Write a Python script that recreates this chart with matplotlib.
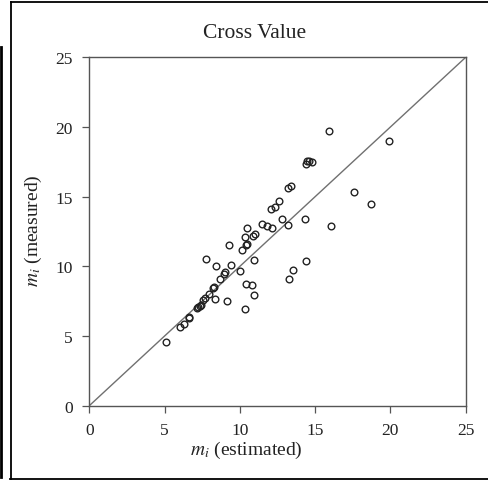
import matplotlib
matplotlib.use("Agg")
import matplotlib.pyplot as plt
from matplotlib.lines import Line2D

m_est = [5.10, 6.03, 6.27, 6.60, 6.62, 7.18, 7.25, 7.32, 7.42, 7.52,
         7.68, 7.92, 8.24, 8.27, 8.35, 7.75, 8.42, 8.66, 8.93, 9.00,
         9.16, 9.25, 9.42, 9.99, 10.15, 10.32, 10.33, 10.40, 10.40, 10.47,
         10.49, 10.83, 10.91, 10.90, 10.98, 10.97, 11.48, 11.80, 12.07, 12.15,
         12.33, 12.62, 12.80, 13.23, 13.21, 13.40, 13.29, 13.55, 14.30, 14.37,
         14.49, 14.62, 14.80, 14.38, 15.95, 16.04, 17.61, 18.68, 19.93]
m_meas = [4.55, 5.65, 5.88, 6.30, 6.33, 7.02, 7.08, 7.14, 7.25, 7.55,
          7.75, 8.00, 8.47, 8.50, 7.66, 10.53, 9.99, 9.09, 9.48, 9.56,
          7.48, 11.50, 10.08, 9.63, 11.14, 6.94, 12.14, 8.73, 11.52, 11.60,
          12.74, 8.64, 10.43, 12.16, 12.32, 7.95, 13.04, 12.93, 14.09, 12.76,
          14.26, 14.72, 13.39, 12.94, 15.61, 15.79, 9.10, 9.72, 13.38, 17.31,
          17.53, 17.57, 17.49, 10.35, 19.72, 12.93, 15.35, 14.46, 19.00]
ticks = [0, 5, 10, 15, 20, 25]

plt.rcParams.update({
    "font.family": "Liberation Serif",
    "mathtext.fontset": "stix",
})

W, H = 489, 481
fig = plt.figure(figsize=(W / 100, H / 100), dpi=100)
ax = fig.add_axes([89.3 / W, 1 - 406.7 / H, 376.4 / W, 348.4 / H])

ax.plot([0, 25], [0, 25], color="#707070", lw=1.0, zorder=1)
ax.plot(m_est, m_meas, ls="none", marker="o", ms=4.8, mfc="none",
        mec="#222222", mew=1.0, zorder=2)

ax.set_xlim(0, 25)
ax.set_ylim(0, 25)
ax.set_xticks(ticks)
ax.set_yticks(ticks)
ax.tick_params(direction="out", length=5, width=0.9, color="#555555",
               labelsize=12.5, labelcolor="#222222", pad=7)
for s in ax.spines.values():
    s.set_color("#555555")
    s.set_linewidth(1.0)

fig.text(255 / W, 1 - 34 / H, "Cross Value", ha="center", va="center",
         fontsize=15.5, color="#222222")
fig.text(246 / W, 1 - 450 / H, r"$m_i$ (estimated)", ha="center",
         va="center", fontsize=14, color="#222222")
fig.text(33 / W, 1 - 231 / H, r"$m_i$ (measured)", ha="center",
         va="center", rotation=90, fontsize=14, color="#222222")

# outer frame lines
def px_line(x0, y0, x1, y1, lw):
    fig.add_artist(Line2D([x0 / W, x1 / W], [1 - y0 / H, 1 - y1 / H],
                          transform=fig.transFigure, color="black", lw=lw))

px_line(11, 3, W + 5, 3, 1.3)
px_line(11, 3, 11, 480, 1.3)
px_line(10, 480, W + 5, 480, 1.3)
px_line(1, 48, 1, 478, 2.0)

fig.savefig("out.png", dpi=100, facecolor="white")
